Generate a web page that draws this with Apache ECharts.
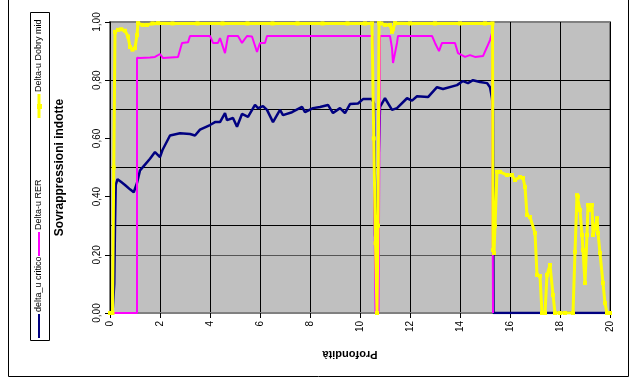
<!DOCTYPE html>
<html>
<head>
<meta charset="utf-8">
<title>Sovrappressioni indotte</title>
<script src="https://cdn.jsdelivr.net/npm/echarts@6/dist/echarts.min.js"></script>
<style>
  html, body { margin: 0; padding: 0; background: #fff; }
  #chart { width: 636px; height: 383px; }
</style>
</head>
<body>
<div id="chart"></div>
<script>
// delta_u critico
var depthCritico = [0.1, 0.17, 0.2, 0.23, 0.3, 0.45, 0.6, 0.8, 0.95, 1.08, 1.2, 1.4, 1.6, 1.8, 2.0, 2.1, 2.4, 2.8, 3.2, 3.4, 3.6, 4.0, 4.2, 4.4, 4.6, 4.68, 4.92, 5.08, 5.28, 5.52, 5.8, 5.92, 6.12, 6.28, 6.52, 6.8, 6.92, 7.28, 7.68, 7.8, 8.12, 8.4, 8.72, 8.92, 9.2, 9.4, 9.6, 9.92, 10.12, 10.48, 10.56, 10.6, 10.66, 10.72, 10.8, 11.0, 11.28, 11.48, 11.88, 12.08, 12.28, 12.72, 13.08, 13.32, 13.88, 14.12, 14.32, 14.52, 14.8, 15.08, 15.2, 15.28, 15.32, 15.34, 20];
var valCritico = [0, 0.1, 0.3, 0.44, 0.46, 0.45, 0.44, 0.425, 0.415, 0.447, 0.49, 0.51, 0.53, 0.553, 0.536, 0.56, 0.61, 0.618, 0.615, 0.61, 0.63, 0.646, 0.656, 0.656, 0.687, 0.663, 0.67, 0.64, 0.684, 0.674, 0.715, 0.704, 0.711, 0.698, 0.656, 0.698, 0.68, 0.69, 0.708, 0.69, 0.704, 0.708, 0.715, 0.687, 0.704, 0.687, 0.718, 0.72, 0.735, 0.735, 0.72, 0.27, 0.2, 0.45, 0.708, 0.738, 0.698, 0.704, 0.738, 0.73, 0.745, 0.742, 0.776, 0.77, 0.783, 0.797, 0.79, 0.8, 0.794, 0.79, 0.776, 0.738, 0.7, 0, 0];

// Delta-u RER
var depthRER = [0.15, 1.08, 1.08, 1.2, 1.6, 1.8, 2.0, 2.12, 2.72, 2.88, 3.12, 3.2, 4.0, 4.12, 4.32, 4.4, 4.6, 4.72, 5.12, 5.28, 5.48, 5.68, 5.88, 6.0, 6.2, 6.28, 10.5, 10.62, 10.74, 10.8, 11.2, 11.28, 11.32, 11.4, 11.48, 11.52, 12.88, 13.0, 13.16, 13.28, 13.8, 13.92, 14.2, 14.4, 14.6, 14.92, 15.08, 15.2, 15.28, 15.32];
var valRER = [0, 0, 0.877, 0.876, 0.878, 0.88, 0.89, 0.876, 0.88, 0.928, 0.93, 0.952, 0.952, 0.928, 0.928, 0.945, 0.893, 0.952, 0.952, 0.928, 0.952, 0.95, 0.897, 0.928, 0.928, 0.952, 0.952, 0, 0, 0.952, 0.952, 0.91, 0.859, 0.862, 0.928, 0.952, 0.952, 0.928, 0.9, 0.928, 0.928, 0.893, 0.88, 0.886, 0.88, 0.883, 0.914, 0.938, 0.962, 0];

// Delta-u Dobry mid
var depthDobry = [0, 0.1, 0.15, 0.2, 0.32, 0.45, 0.6, 0.72, 0.8, 0.9, 1.0, 1.08, 1.12, 1.3, 1.48, 1.7, 1.92, 2.5, 3.5, 4.5, 5.5, 6.5, 7.5, 8.5, 9.5, 10.2, 10.48, 10.55, 10.62, 10.68, 10.72, 10.76, 10.85, 11.0, 11.2, 11.28, 11.32, 11.4, 12, 13, 14, 15, 15.3, 15.32, 15.36, 15.4, 15.48, 15.6, 15.88, 16.08, 16.2, 16.4, 16.52, 16.6, 16.68, 16.8, 17.0, 17.08, 17.2, 17.28, 17.4, 17.48, 17.6, 17.72, 17.8, 18.0, 18.2, 18.52, 18.6, 18.68, 18.72, 18.8, 18.88, 18.92, 19.0, 19.08, 19.12, 19.2, 19.28, 19.32, 19.4, 19.48, 19.52, 19.6, 19.72, 19.8, 19.88, 20];
var valDobry = [0, 0, 0.5, 0.966, 0.973, 0.975, 0.97, 0.95, 0.914, 0.905, 0.91, 0.955, 0.996, 0.99, 0.99, 0.995, 0.996, 0.995, 0.995, 0.995, 0.995, 0.995, 0.995, 0.995, 0.995, 0.995, 0.995, 0.6, 0.24, 0, 0.3, 0.996, 0.995, 0.99, 0.99, 0.966, 0.975, 0.996, 0.995, 0.995, 0.995, 0.995, 0.995, 0.216, 0.206, 0.3, 0.485, 0.485, 0.474, 0.474, 0.457, 0.467, 0.464, 0.433, 0.337, 0.33, 0.275, 0.131, 0.127, 0, 0, 0.131, 0.165, 0.062, 0, 0, 0, 0, 0.21, 0.405, 0.4, 0.354, 0.268, 0.216, 0.103, 0.268, 0.371, 0.354, 0.371, 0.268, 0.292, 0.326, 0.275, 0.206, 0.103, 0.034, 0, 0];

var seriesNames = ['delta_u critico', 'Delta-u RER', 'Delta-u Dobry mid'];
var seriesColors = ['#000080', '#FF00FF', '#FFFF00'];

function pairs(xs, ys) {
	var out = [];
	for (var i = 0; i < xs.length; i++) out.push([xs[i], ys[i]]);
	return out;
}

var font = 'Liberation Sans, Arial, sans-serif';

// legenda verticale (testo ruotato), disegnata a mano
var legendItems = [];
var legendBottom = [338, 256, 118];
for (var i = 0; i < seriesNames.length; i++) {
	var yb = legendBottom[i];
	legendItems.push({
		type: 'line',
		shape: { x1: 39, y1: yb, x2: 39, y2: yb - 24 },
		style: { stroke: seriesColors[i], lineWidth: i == 2 ? 3 : 2 }
	});
	if (i == 2) {
		legendItems.push({
			type: 'rect',
			shape: { x: 37, y: yb - 14, width: 5, height: 5 },
			style: { fill: seriesColors[i] }
		});
	}
	legendItems.push({
		type: 'text',
		x: 39, y: yb - 26,
		rotation: Math.PI / 2,
		style: {
			text: seriesNames[i], fill: '#000', font: '9px ' + font,
			textAlign: 'left', textVerticalAlign: 'middle'
		}
	});
}

var chart = echarts.init(document.getElementById('chart'));
chart.setOption({
	animation: false,
	backgroundColor: '#fff',
	graphic: [{
		type: 'rect', silent: true, z: -10,
		shape: { x: 8.5, y: -2, width: 620, height: 378.5 },
		style: { fill: 'none', stroke: '#000', lineWidth: 1 }
	}, {
		type: 'rect', silent: true,
		shape: { x: 30.5, y: 12.5, width: 19, height: 328 },
		style: { fill: '#fff', stroke: '#000', lineWidth: 1 }
	}, {
		type: 'group', children: legendItems
	}],
	grid: {
		left: 110, top: 22, width: 500, height: 291,
		show: true, backgroundColor: '#C0C0C0',
		borderColor: '#808080', borderWidth: 2
	},
	xAxis: {
		type: 'value', min: 0, max: 20, interval: 2,
		name: 'Profondità', nameLocation: 'middle', nameGap: 36, nameRotate: 180,
		nameTextStyle: { fontFamily: font, fontSize: 11, fontWeight: 'bold', color: '#000', padding: [0, 0, 0, 20] },
		axisLine: { show: true, lineStyle: { color: '#808080', width: 2 } },
		axisTick: { show: true, inside: false, length: 5, lineStyle: { color: '#000' } },
		axisLabel: { rotate: 90, margin: 8, fontFamily: font, fontSize: 10, color: '#000' },
		splitLine: { show: true, lineStyle: { color: '#000', width: 1 } }
	},
	yAxis: [{
		type: 'value', min: 0, max: 1, interval: 0.2,
		name: 'Sovrappressioni indotte', nameLocation: 'middle', nameGap: 44,
		nameTextStyle: { fontFamily: font, fontSize: 12, fontWeight: 'bold', color: '#000' },
		axisLine: { show: true, lineStyle: { color: '#000', width: 1 } },
		axisTick: { show: true, inside: false, length: 5, lineStyle: { color: '#000' } },
		axisLabel: {
			rotate: 90, margin: 8, fontFamily: font, fontSize: 10, color: '#000',
			formatter: function(v) { return v.toFixed(2).replace('.', ','); }
		},
		splitLine: { show: false }
	}, {
		// griglia orizzontale irregolare come nell'originale
		type: 'value', min: 0, max: 1, interval: 0.1, position: 'right',
		axisLine: { show: false }, axisTick: { show: false }, axisLabel: { show: false },
		splitLine: {
			show: true, showMinLine: false, showMaxLine: false,
			lineStyle: { width: 1, color: ['transparent', '#555', '#000', 'transparent', '#000', 'transparent', '#000', '#000', 'transparent'] }
		}
	}],
	series: [{
		name: seriesNames[0], type: 'line', data: pairs(depthCritico, valCritico),
		showSymbol: false, symbol: 'none',
		lineStyle: { color: seriesColors[0], width: 2.5 }, z: 2
	}, {
		name: seriesNames[1], type: 'line', data: pairs(depthRER, valRER),
		showSymbol: false, symbol: 'none',
		lineStyle: { color: seriesColors[1], width: 2 }, z: 3
	}, {
		name: seriesNames[2], type: 'line', data: pairs(depthDobry, valDobry),
		symbol: 'rect', symbolSize: 4, showSymbol: true,
		itemStyle: { color: seriesColors[2], borderWidth: 0 },
		lineStyle: { color: seriesColors[2], width: 3 }, z: 4
	}]
});
</script>
</body>
</html>
